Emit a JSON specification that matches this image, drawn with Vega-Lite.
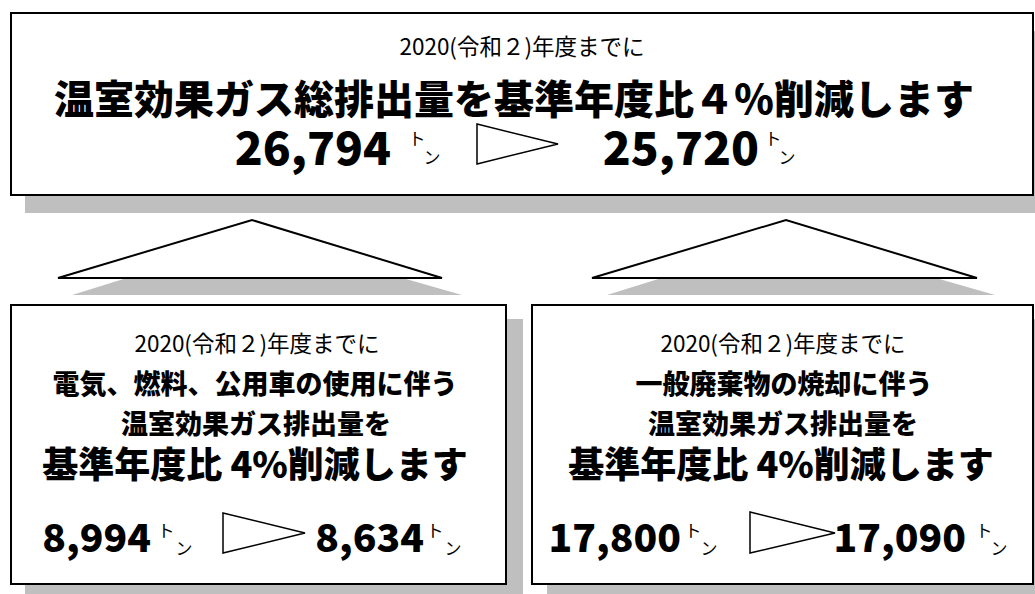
{
  "$schema": "https://vega.github.io/schema/vega-lite/v6.json",
  "width": 1035,
  "height": 594,
  "padding": 0,
  "autosize": {"type": "none"},
  "background": "white",
  "config": {"view": {"stroke": null}, "text": {"font": "Noto Sans CJK JP"}},
  "datasets": {
    "boxes": [
      {"part": "top", "layer": "shadow", "x0": 25, "x1": 1047, "y0": 31, "y1": 213},
      {"part": "left", "layer": "shadow", "x0": 25, "x1": 523, "y0": 319, "y1": 600},
      {"part": "right", "layer": "shadow", "x0": 547, "x1": 1050, "y0": 319, "y1": 600},
      {"part": "top", "layer": "panel", "x0": 11, "x1": 1033, "y0": 13, "y1": 195},
      {"part": "left", "layer": "panel", "x0": 11, "x1": 506, "y0": 305, "y1": 584},
      {"part": "right", "layer": "panel", "x0": 532, "x1": 1033, "y0": 305, "y1": 584}
    ],
    "tris": [
      {"id": "ls", "layer": "shadow", "x": 72, "y": 295, "y2": 295},
      {"id": "ls", "layer": "shadow", "x": 259, "y": 237, "y2": 295},
      {"id": "ls", "layer": "shadow", "x": 462, "y": 295, "y2": 295},
      {"id": "rs", "layer": "shadow", "x": 607, "y": 295, "y2": 295},
      {"id": "rs", "layer": "shadow", "x": 793, "y": 237, "y2": 295},
      {"id": "rs", "layer": "shadow", "x": 995, "y": 295, "y2": 295},
      {"id": "l", "layer": "big", "x": 58, "y": 278, "y2": 278},
      {"id": "l", "layer": "big", "x": 252, "y": 220, "y2": 278},
      {"id": "l", "layer": "big", "x": 442, "y": 278, "y2": 278},
      {"id": "r", "layer": "big", "x": 592, "y": 278, "y2": 278},
      {"id": "r", "layer": "big", "x": 786, "y": 220, "y2": 278},
      {"id": "r", "layer": "big", "x": 977, "y": 278, "y2": 278},
      {"id": "a1", "layer": "arrow", "x": 477, "y": 124, "y2": 164},
      {"id": "a1", "layer": "arrow", "x": 558, "y": 144, "y2": 144},
      {"id": "a2", "layer": "arrow", "x": 223, "y": 513, "y2": 553},
      {"id": "a2", "layer": "arrow", "x": 305, "y": 533, "y2": 533},
      {"id": "a3", "layer": "arrow", "x": 750, "y": 512, "y2": 553},
      {"id": "a3", "layer": "arrow", "x": 835, "y": 533, "y2": 533}
    ],
    "labels": [
      {"role": "year", "text": "2020(令和２)年度までに", "x": 522, "y": 48},
      {"role": "year", "text": "2020(令和２)年度までに", "x": 257, "y": 345},
      {"role": "year", "text": "2020(令和２)年度までに", "x": 783, "y": 345},
      {"role": "head", "text": "温室効果ガス総排出量を基準年度比４％削減します", "x": 514, "y": 102},
      {"role": "big", "text": "26,794", "x": 391, "y": 151},
      {"role": "big", "text": "25,720", "x": 759, "y": 151},
      {"role": "sub", "text": "電気、燃料、公用車の使用に伴う", "x": 255, "y": 386},
      {"role": "sub", "text": "温室効果ガス排出量を", "x": 256, "y": 426},
      {"role": "sub", "text": "一般廃棄物の焼却に伴う", "x": 784, "y": 386},
      {"role": "sub", "text": "温室効果ガス排出量を", "x": 783, "y": 426},
      {"role": "pct", "text": "基準年度比 4%削減します", "x": 255, "y": 467},
      {"role": "pct", "text": "基準年度比 4%削減します", "x": 781, "y": 467},
      {"role": "num", "text": "8,994", "x": 151, "y": 540},
      {"role": "num", "text": "8,634", "x": 424, "y": 540},
      {"role": "num", "text": "17,800", "x": 681, "y": 540},
      {"role": "num", "text": "17,090", "x": 966, "y": 540},
      {"role": "to", "text": "ト", "x": 417, "y": 140},
      {"role": "n", "text": "ン", "x": 432, "y": 159},
      {"role": "to", "text": "ト", "x": 773, "y": 140},
      {"role": "n", "text": "ン", "x": 787, "y": 159},
      {"role": "to", "text": "ト", "x": 166, "y": 532},
      {"role": "n", "text": "ン", "x": 184, "y": 550},
      {"role": "to", "text": "ト", "x": 435, "y": 532},
      {"role": "n", "text": "ン", "x": 453, "y": 550},
      {"role": "to", "text": "ト", "x": 693, "y": 532},
      {"role": "n", "text": "ン", "x": 709, "y": 550},
      {"role": "to", "text": "ト", "x": 984, "y": 532},
      {"role": "n", "text": "ン", "x": 999, "y": 550}
    ]
  },
  "layer": [
    {
      "data": {"name": "boxes"},
      "transform": [{"filter": "datum.layer === 'shadow'"}],
      "mark": {"type": "rect", "fill": "#bfbfbf", "clip": true},
      "encoding": {
        "x": {"field": "x0", "type": "quantitative", "scale": {"domain": [0, 1035], "nice": false, "zero": false}, "axis": null},
        "x2": {"field": "x1"},
        "y": {"field": "y0", "type": "quantitative", "scale": {"domain": [0, 594], "reverse": true, "nice": false, "zero": false}, "axis": null},
        "y2": {"field": "y1"}
      }
    },
    {
      "data": {"name": "tris"},
      "transform": [{"filter": "datum.layer === 'shadow'"}],
      "mark": {"type": "area", "fill": "#bfbfbf", "clip": true},
      "encoding": {
        "x": {"field": "x", "type": "quantitative", "axis": null},
        "y": {"field": "y", "type": "quantitative", "axis": null},
        "y2": {"field": "y2"},
        "detail": {"field": "id"}
      }
    },
    {
      "data": {"name": "boxes"},
      "transform": [{"filter": "datum.layer === 'panel'"}],
      "mark": {"type": "rect", "fill": "white", "stroke": "#000000", "strokeWidth": 2, "clip": true},
      "encoding": {
        "x": {"field": "x0", "type": "quantitative", "axis": null},
        "x2": {"field": "x1"},
        "y": {"field": "y0", "type": "quantitative", "axis": null},
        "y2": {"field": "y1"}
      }
    },
    {
      "data": {"name": "tris"},
      "transform": [{"filter": "datum.layer === 'big'"}],
      "mark": {"type": "area", "fill": "white", "stroke": "#000000", "strokeWidth": 2, "strokeJoin": "miter"},
      "encoding": {
        "x": {"field": "x", "type": "quantitative", "axis": null},
        "y": {"field": "y", "type": "quantitative", "axis": null},
        "y2": {"field": "y2"},
        "detail": {"field": "id"}
      }
    },
    {
      "data": {"name": "tris"},
      "transform": [{"filter": "datum.layer === 'arrow'"}],
      "mark": {"type": "area", "fill": "white", "stroke": "#000000", "strokeWidth": 1.5, "strokeJoin": "miter"},
      "encoding": {
        "x": {"field": "x", "type": "quantitative", "axis": null},
        "y": {"field": "y", "type": "quantitative", "axis": null},
        "y2": {"field": "y2"},
        "detail": {"field": "id"}
      }
    },
    {
      "data": {"name": "labels"},
      "transform": [{"filter": "datum.role === 'year'"}],
      "mark": {"type": "text", "fontSize": 22.5, "fontWeight": "normal", "color": "#000", "baseline": "middle", "align": "center"},
      "encoding": {
        "x": {"field": "x", "type": "quantitative", "axis": null},
        "y": {"field": "y", "type": "quantitative", "axis": null},
        "text": {"field": "text"}
      }
    },
    {
      "data": {"name": "labels"},
      "transform": [{"filter": "datum.role === 'head'"}],
      "mark": {"type": "text", "fontSize": 40, "fontWeight": 900, "color": "#000", "baseline": "middle", "align": "center"},
      "encoding": {
        "x": {"field": "x", "type": "quantitative", "axis": null},
        "y": {"field": "y", "type": "quantitative", "axis": null},
        "text": {"field": "text"}
      }
    },
    {
      "data": {"name": "labels"},
      "transform": [{"filter": "datum.role === 'big'"}],
      "mark": {"type": "text", "fontSize": 46, "fontWeight": 900, "color": "#000", "baseline": "middle", "align": "right"},
      "encoding": {
        "x": {"field": "x", "type": "quantitative", "axis": null},
        "y": {"field": "y", "type": "quantitative", "axis": null},
        "text": {"field": "text"}
      }
    },
    {
      "data": {"name": "labels"},
      "transform": [{"filter": "datum.role === 'sub'"}],
      "mark": {"type": "text", "fontSize": 27, "fontWeight": 900, "color": "#000", "baseline": "middle", "align": "center"},
      "encoding": {
        "x": {"field": "x", "type": "quantitative", "axis": null},
        "y": {"field": "y", "type": "quantitative", "axis": null},
        "text": {"field": "text"}
      }
    },
    {
      "data": {"name": "labels"},
      "transform": [{"filter": "datum.role === 'pct'"}],
      "mark": {"type": "text", "fontSize": 36, "fontWeight": 900, "color": "#000", "baseline": "middle", "align": "center"},
      "encoding": {
        "x": {"field": "x", "type": "quantitative", "axis": null},
        "y": {"field": "y", "type": "quantitative", "axis": null},
        "text": {"field": "text"}
      }
    },
    {
      "data": {"name": "labels"},
      "transform": [{"filter": "datum.role === 'num'"}],
      "mark": {"type": "text", "fontSize": 39, "fontWeight": 900, "color": "#000", "baseline": "middle", "align": "right"},
      "encoding": {
        "x": {"field": "x", "type": "quantitative", "axis": null},
        "y": {"field": "y", "type": "quantitative", "axis": null},
        "text": {"field": "text"}
      }
    },
    {
      "data": {"name": "labels"},
      "transform": [{"filter": "datum.role === 'to' || datum.role === 'n'"}],
      "mark": {"type": "text", "fontSize": 17, "fontWeight": "normal", "color": "#000", "baseline": "middle", "align": "center"},
      "encoding": {
        "x": {"field": "x", "type": "quantitative", "axis": null},
        "y": {"field": "y", "type": "quantitative", "axis": null},
        "text": {"field": "text"}
      }
    }
  ]
}
